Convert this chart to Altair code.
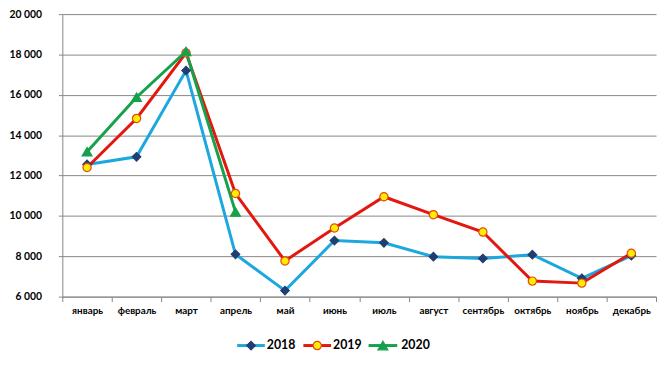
import altair as alt
import pandas as pd

months = ["январь", "февраль", "март", "апрель", "май", "июнь",
          "июль", "август", "сентябрь", "октябрь", "ноябрь", "декабрь"]
years = ["2018", "2019", "2020"]
v2018 = [12550, 12930, 17200, 8100, 6300, 8780, 8670, 7980, 7890, 8080, 6910, 8030]
v2019 = [12400, 14830, 18080, 11110, 7770, 9400, 10950, 10060, 9200, 6770, 6670, 8150]
v2020 = [13180, 15880, 18150, 10200]
y_ticks = [6000, 8000, 10000, 12000, 14000, 16000, 18000, 20000]

line_colors = ["#1CA7DF", "#E3170E", "#16A14B"]
marker_fill = ["#213E73", "#FFEE00", "#16A14B"]
marker_stroke = ["#213E73", "#E6480C", "#16A14B"]
shapes = ["diamond", "circle", "triangle-up"]
sizes = [75, 70, 100]

rows = []
for yr, vals in zip(years, [v2018, v2019, v2020]):
    for m, v in zip(months, vals):
        rows.append({"month": m, "year": yr, "value": v})
df = pd.DataFrame(rows)

FONT = "Lato"
W, H = 601, 286

x_enc = alt.X(
    "month:N", sort=months,
    scale=alt.Scale(type="band", paddingInner=0, paddingOuter=0, domain=months),
    axis=alt.Axis(title=None, tickBand="extent", tickSize=5, labelPadding=4,
                  labelFont=FONT, labelFontWeight="bold", labelFontSize=10,
                  labelColor="#000000", grid=False, labelAngle=0,
                  domainColor="#868686", tickColor="#868686"),
)
y_enc = alt.Y(
    "value:Q",
    scale=alt.Scale(domain=[6000, 20000], nice=False, zero=False),
    axis=alt.Axis(title=None, values=y_ticks, tickSize=4, labelPadding=17,
                  labelExpr="replace(format(datum.value, ','), ',', ' ')",
                  labelFont=FONT, labelFontWeight="bold", labelFontSize=10.5,
                  labelColor="#000000", grid=True, gridColor="#868686",
                  domainColor="#868686", tickColor="#868686"),
)

base = alt.Chart(df)
layers = []
for i, yr in enumerate(years):
    sub = base.transform_filter(alt.datum.year == yr)
    layers.append(sub.mark_line(color=line_colors[i], strokeWidth=3).encode(x=x_enc, y=y_enc))
for i, yr in enumerate(years):
    sub = base.transform_filter(alt.datum.year == yr)
    layers.append(sub.mark_point(shape=shapes[i], filled=True, fill=marker_fill[i],
                                 stroke=marker_stroke[i], strokeWidth=1.2,
                                 size=sizes[i], opacity=1).encode(x=x_enc, y=y_enc))

# custom legend
leg_y = 335.5
leg_line = [(177, 205), (244, 272), (310, 339)]
leg_text_x = [207, 274, 343]
for i, yr in enumerate(years):
    ld = pd.DataFrame({"year": [yr]})
    a, b = leg_line[i]
    layers.append(alt.Chart(ld).mark_rule(color=line_colors[i], strokeWidth=3).encode(
        x=alt.value(a), x2=alt.value(b), y=alt.value(leg_y)))
    layers.append(alt.Chart(ld).mark_point(shape=shapes[i], filled=True, fill=marker_fill[i],
                                           stroke=marker_stroke[i], strokeWidth=1.2,
                                           size=sizes[i], opacity=1).encode(
        x=alt.value((a + b) / 2), y=alt.value(leg_y)))
    layers.append(alt.Chart(ld).mark_text(align="left", baseline="middle", font=FONT,
                                          fontWeight="bold", fontSize=12.5, color="#000000").encode(
        x=alt.value(leg_text_x[i]), y=alt.value(leg_y), text="year:N"))

chart = alt.layer(*layers).properties(
    width=W, height=H,
    autosize=alt.AutoSizeParams(type="none"),
    padding={"left": 55, "top": 4, "right": 4, "bottom": 66},
    background="#FFFFFF",
).configure_view(stroke=None)

chart.save("out.html", embed_options={"renderer": "svg", "actions": False})
